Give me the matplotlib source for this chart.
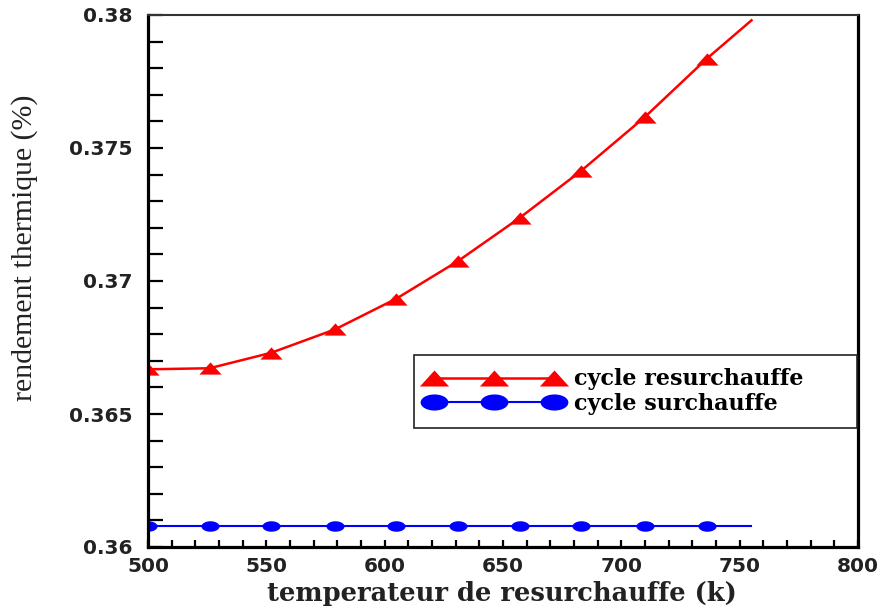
import numpy as np
import matplotlib
matplotlib.use("Agg")
import matplotlib.pyplot as plt
from matplotlib.path import Path
from matplotlib.lines import Line2D
from matplotlib.ticker import MultipleLocator, FormatStrFormatter

# Reheat temperature (K) and thermal efficiency of both cycles
temperature = [500, 526, 552, 579, 605, 631, 657, 683, 710, 736, 755]
eff_reheat = [0.36668, 0.36672, 0.36730, 0.36818, 0.36934, 0.37075,
              0.37237, 0.37414, 0.37617, 0.37835, 0.37980]
eff_superheat = [0.3608, 0.3608, 0.3608, 0.3608, 0.3608, 0.3608,
                 0.3608, 0.3608, 0.3608, 0.3608, 0.3608]
n_markers = 10

label_reheat = "cycle resurchauffe"
label_superheat = "cycle surchauffe"
xlabel = "temperateur de resurchauffe (k)"
ylabel = "rendement thermique (%)"

# flattened marker shapes
tri = Path([(-1.0, -0.55), (1.0, -0.55), (0.0, 0.55), (-1.0, -0.55)],
           [Path.MOVETO, Path.LINETO, Path.LINETO, Path.CLOSEPOLY])
theta = np.linspace(0, 2 * np.pi, 60)
ell = Path(np.column_stack([np.cos(theta), 0.58 * np.sin(theta)]), closed=True)

fig = plt.figure(figsize=(8.87, 6.08), dpi=100)
ax = fig.add_axes([148 / 887, 1 - 547 / 608, 710 / 887, 532 / 608])

ax.plot(temperature, eff_reheat, color="#ff0000", lw=1.8,
        marker=tri, ms=16, markevery=slice(0, n_markers), mec="none")
ax.plot(temperature, eff_superheat, color="#0000ff", lw=1.5,
        marker=ell, ms=13, markevery=slice(0, n_markers), mec="none")

ax.set_xlim(500, 800)
ax.set_ylim(0.36, 0.38)
ax.xaxis.set_major_locator(MultipleLocator(50))
ax.xaxis.set_minor_locator(MultipleLocator(10))
ax.yaxis.set_major_locator(MultipleLocator(0.005))
ax.yaxis.set_minor_locator(MultipleLocator(0.001))
ax.yaxis.set_major_formatter(FormatStrFormatter("%g"))
ax.xaxis.set_major_formatter(FormatStrFormatter("%d"))

ax.tick_params(axis="x", which="both", direction="in", length=5, width=1.6,
               top=False, pad=7)
ax.tick_params(axis="y", which="both", direction="in", length=11, width=1.6,
               right=False, pad=11)
for lab in ax.get_xticklabels() + ax.get_yticklabels():
    lab.set_fontfamily("DejaVu Sans")
    lab.set_fontweight("bold")
    lab.set_fontsize(14.5)
    lab.set_color("#222222")

for side in ("left", "bottom", "right"):
    ax.spines[side].set_linewidth(2.3)
ax.spines["top"].set_linewidth(1.5)
ax.spines["top"].set_color("#333333")

fig.text(502 / 887, 1 - 594 / 608, xlabel,
         ha="center", va="center", fontfamily="DejaVu Serif",
         fontweight="bold", fontsize=18.5, color="#222222")
fig.text(25 / 887, 1 - 248 / 608, ylabel, rotation=90,
         ha="center", va="center", fontfamily="Liberation Serif",
         fontsize=21.5, color="#222222")

h1 = Line2D([], [], color="#ff0000", lw=1.8, marker=tri, ms=21, mec="none")
h2 = Line2D([], [], color="#0000ff", lw=1.5, marker=ell, ms=20, mec="none")
leg = fig.legend([h1, h2], [label_reheat, label_superheat],
                 loc="upper left",
                 bbox_to_anchor=(414 / 887, 1 - 425 / 608, 443 / 887, 70 / 608),
                 mode="expand", borderaxespad=0, numpoints=3,
                 handlelength=6.0, handletextpad=0.62, labelspacing=0.12,
                 borderpad=0.6, fancybox=False, framealpha=1,
                 prop={"family": "DejaVu Serif", "weight": "bold", "size": 16})
leg.get_frame().set_edgecolor("#222222")
leg.get_frame().set_linewidth(1.2)

fig.savefig("out.png", dpi=100)
